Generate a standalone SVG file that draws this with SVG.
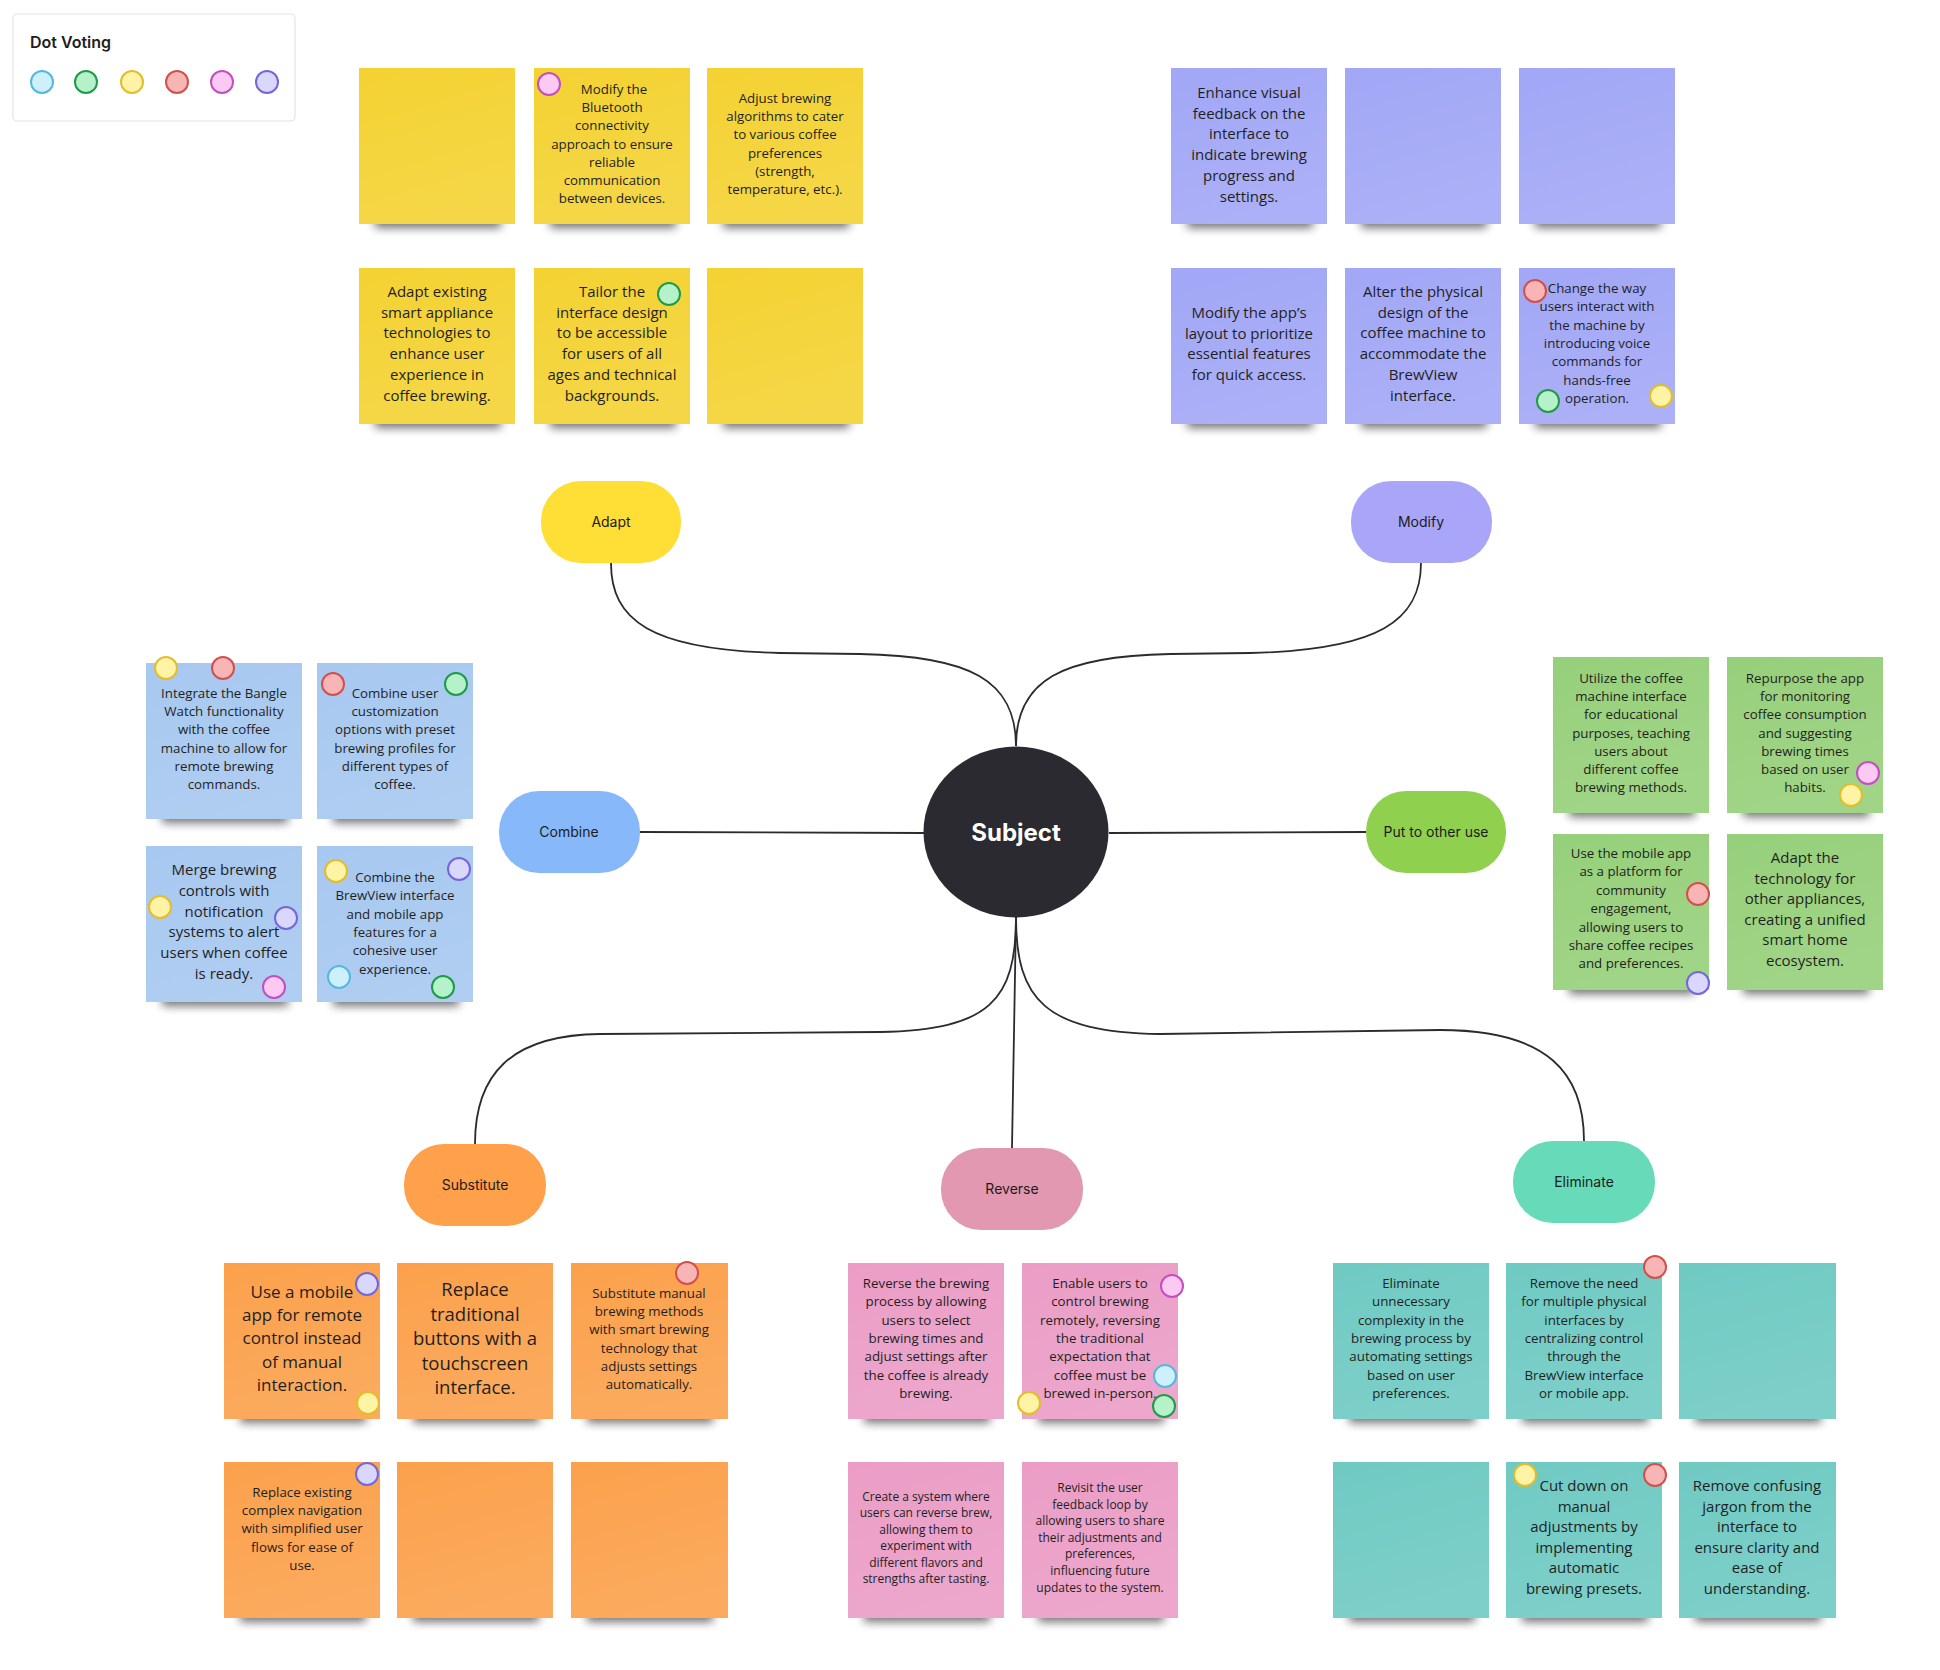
<svg xmlns="http://www.w3.org/2000/svg" width="1940" height="1670" viewBox="0 0 1940 1670">
<style>
.bg{fill:#ffffff}
.panel{fill:#ffffff;stroke:#e4e4e4;stroke-width:1.2}
.title{font-family:Inter,"Liberation Sans",sans-serif;font-size:16px;font-weight:600;fill:#1e1e1e}
.sh{fill:#000;opacity:.55;filter:url(#blur)}
.y{fill:#f4d232}.p{fill:#a2a7f6}.b{fill:#a7c8f0}.g{fill:#96d07a}.o{fill:#fba14c}.k{fill:#eb9dc6}.t{fill:#6fcac3}
.tx{font-family:"Open Sans","Liberation Sans",sans-serif;fill:#1f1f1f;text-anchor:middle}
.s12{font-size:12px}.s13{font-size:13.3px}.s15{font-size:15px}.s17{font-size:17px}.s18{font-size:18.5px}
.pill-t{font-family:Inter,"Liberation Sans",sans-serif;font-size:14px;fill:#1c1c1c;text-anchor:middle}
.conn{fill:none;stroke:#2b2b2e;stroke-width:1.8}
.dc{fill:#cdf0fb;stroke:#56b8de;stroke-width:2}
.dg{fill:#b6f2c9;stroke:#1f9a48;stroke-width:2}
.dy{fill:#fff3a6;stroke:#e2bd2c;stroke-width:2}
.dr{fill:#f8b5b5;stroke:#d2504c;stroke-width:2}
.dp{fill:#fbc9f1;stroke:#c24fbf;stroke-width:2}
.dv{fill:#d9d7fb;stroke:#7566dc;stroke-width:2}
</style>
<defs>
<filter id="blur" x="-20%" y="-150%" width="140%" height="400%"><feGaussianBlur stdDeviation="5"/></filter>
<linearGradient id="gloss" x1="0" y1="0" x2="0.3" y2="1"><stop offset="0" stop-color="#fff" stop-opacity="0"/><stop offset="1" stop-color="#fff" stop-opacity="0.1"/></linearGradient>
<g id="shadow"><rect class="sh" x="16" y="146" width="126" height="14"/></g>
</defs>
<rect class="bg" x="0" y="0" width="1940" height="1670"/>

<g id="dot-voting">
<rect class="panel" x="13" y="14" width="282" height="107" rx="4"/>
<text class="title" x="30" y="48">Dot Voting</text>
<circle class="dc" cx="42" cy="82" r="11"/>
<circle class="dg" cx="86" cy="82" r="11"/>
<circle class="dy" cx="132" cy="82" r="11"/>
<circle class="dr" cx="177" cy="82" r="11"/>
<circle class="dp" cx="222" cy="82" r="11"/>
<circle class="dv" cx="267" cy="82" r="11"/>
</g>

<g id="connectors">
<path class="conn" d="M1016,746 C1016,680 970,656 860,654 L780,653 C650,650 611,620 611,563"/>
<path class="conn" d="M1016,746 C1016,680 1062,656 1170,654 L1250,653 C1380,650 1421,620 1421,563"/>
<path class="conn" d="M640,832 L924,833"/>
<path class="conn" d="M1109,833 L1366,832"/>
<path class="conn" d="M1016,917 C1016,1000 990,1030 880,1032 L600,1034 C510,1035 475,1075 475,1144"/>
<path class="conn" d="M1016,917 L1012,1148"/>
<path class="conn" d="M1016,917 C1016,1000 1045,1032 1160,1034 L1440,1030 C1550,1030 1584,1075 1584,1141"/>
</g>

<g id="subject">
<ellipse cx="1016" cy="832" rx="92.5" ry="85.5" fill="#2b2a30"/>
<text x="1016" y="841" font-family="Inter,'Liberation Sans',sans-serif" font-size="24" font-weight="700" fill="#ffffff" text-anchor="middle">Subject</text>
</g>

<g id="pill-adapt"><rect x="541" y="481" width="140" height="82" rx="40" fill="#ffde36"/><text class="pill-t" x="611" y="527">Adapt</text></g>
<g id="pill-modify"><rect x="1351" y="481" width="141" height="82" rx="40" fill="#a9a5f8"/><text class="pill-t" x="1421" y="527">Modify</text></g>
<g id="pill-combine"><rect x="499" y="791" width="141" height="82" rx="40" fill="#87b9fa"/><text class="pill-t" x="569" y="837">Combine</text></g>
<g id="pill-put"><rect x="1366" y="791" width="140" height="82" rx="40" fill="#8fd14f"/><text class="pill-t" x="1436" y="837">Put to other use</text></g>
<g id="pill-substitute"><rect x="404" y="1144" width="142" height="82" rx="40" fill="#ffa04b"/><text class="pill-t" x="475" y="1190">Substitute</text></g>
<g id="pill-reverse"><rect x="941" y="1148" width="142" height="82" rx="40" fill="#e398b1"/><text class="pill-t" x="1012" y="1194">Reverse</text></g>
<g id="pill-eliminate"><rect x="1513" y="1141" width="142" height="82" rx="40" fill="#67dbb9"/><text class="pill-t" x="1584" y="1187">Eliminate</text></g>

<!-- Adapt stickies -->
<g id="a1" transform="translate(359,68)"><use href="#shadow"/><rect class="y" width="156" height="156"/><rect fill="url(#gloss)" width="156" height="156"/></g>
<g id="a2" transform="translate(534,68)"><use href="#shadow"/><rect class="y" width="156" height="156"/><rect fill="url(#gloss)" width="156" height="156"/>
<text class="tx s13" y="26"><tspan x="80">Modify the</tspan><tspan x="78" dy="18.2">Bluetooth</tspan><tspan x="78" dy="18.2">connectivity</tspan><tspan x="78" dy="18.2">approach to ensure</tspan><tspan x="78" dy="18.2">reliable</tspan><tspan x="78" dy="18.2">communication</tspan><tspan x="78" dy="18.2">between devices.</tspan></text>
<circle class="dp" cx="15" cy="16" r="11"/></g>
<g id="a3" transform="translate(707,68)"><use href="#shadow"/><rect class="y" width="156" height="156"/><rect fill="url(#gloss)" width="156" height="156"/>
<text class="tx s13" y="35"><tspan x="78">Adjust brewing</tspan><tspan x="78" dy="18.2">algorithms to cater</tspan><tspan x="78" dy="18.2">to various coffee</tspan><tspan x="78" dy="18.2">preferences</tspan><tspan x="78" dy="18.2">(strength,</tspan><tspan x="78" dy="18.2">temperature, etc.).</tspan></text></g>
<g id="a4" transform="translate(359,268)"><use href="#shadow"/><rect class="y" width="156" height="156"/><rect fill="url(#gloss)" width="156" height="156"/>
<text class="tx s15" y="29"><tspan x="78">Adapt existing</tspan><tspan x="78" dy="20.7">smart appliance</tspan><tspan x="78" dy="20.7">technologies to</tspan><tspan x="78" dy="20.7">enhance user</tspan><tspan x="78" dy="20.7">experience in</tspan><tspan x="78" dy="20.7">coffee brewing.</tspan></text></g>
<g id="a5" transform="translate(534,268)"><use href="#shadow"/><rect class="y" width="156" height="156"/><rect fill="url(#gloss)" width="156" height="156"/>
<text class="tx s15" y="29"><tspan x="78">Tailor the</tspan><tspan x="78" dy="20.7">interface design</tspan><tspan x="78" dy="20.7">to be accessible</tspan><tspan x="78" dy="20.7">for users of all</tspan><tspan x="78" dy="20.7">ages and technical</tspan><tspan x="78" dy="20.7">backgrounds.</tspan></text>
<circle class="dg" cx="135" cy="26" r="11"/></g>
<g id="a6" transform="translate(707,268)"><use href="#shadow"/><rect class="y" width="156" height="156"/><rect fill="url(#gloss)" width="156" height="156"/></g>

<!-- Modify stickies -->
<g id="m1" transform="translate(1171,68)"><use href="#shadow"/><rect class="p" width="156" height="156"/><rect fill="url(#gloss)" width="156" height="156"/>
<text class="tx s15" y="30"><tspan x="78">Enhance visual</tspan><tspan x="78" dy="20.7">feedback on the</tspan><tspan x="78" dy="20.7">interface to</tspan><tspan x="78" dy="20.7">indicate brewing</tspan><tspan x="78" dy="20.7">progress and</tspan><tspan x="78" dy="20.7">settings.</tspan></text></g>
<g id="m2" transform="translate(1345,68)"><use href="#shadow"/><rect class="p" width="156" height="156"/><rect fill="url(#gloss)" width="156" height="156"/></g>
<g id="m3" transform="translate(1519,68)"><use href="#shadow"/><rect class="p" width="156" height="156"/><rect fill="url(#gloss)" width="156" height="156"/></g>
<g id="m4" transform="translate(1171,268)"><use href="#shadow"/><rect class="p" width="156" height="156"/><rect fill="url(#gloss)" width="156" height="156"/>
<text class="tx s15" y="50"><tspan x="78">Modify the app’s</tspan><tspan x="78" dy="20.7">layout to prioritize</tspan><tspan x="78" dy="20.7">essential features</tspan><tspan x="78" dy="20.7">for quick access.</tspan></text></g>
<g id="m5" transform="translate(1345,268)"><use href="#shadow"/><rect class="p" width="156" height="156"/><rect fill="url(#gloss)" width="156" height="156"/>
<text class="tx s15" y="29"><tspan x="78">Alter the physical</tspan><tspan x="78" dy="20.7">design of the</tspan><tspan x="78" dy="20.7">coffee machine to</tspan><tspan x="78" dy="20.7">accommodate the</tspan><tspan x="78" dy="20.7">BrewView</tspan><tspan x="78" dy="20.7">interface.</tspan></text></g>
<g id="m6" transform="translate(1519,268)"><use href="#shadow"/><rect class="p" width="156" height="156"/><rect fill="url(#gloss)" width="156" height="156"/>
<text class="tx s13" y="25"><tspan x="78">Change the way</tspan><tspan x="78" dy="18.3">users interact with</tspan><tspan x="78" dy="18.3">the machine by</tspan><tspan x="78" dy="18.3">introducing voice</tspan><tspan x="78" dy="18.3">commands for</tspan><tspan x="78" dy="18.3">hands-free</tspan><tspan x="78" dy="18.3">operation.</tspan></text>
<circle class="dr" cx="16" cy="23" r="11"/><circle class="dg" cx="29" cy="133" r="11"/><circle class="dy" cx="142" cy="128" r="11"/></g>

<!-- Combine stickies -->
<g id="c1" transform="translate(146,663)"><use href="#shadow"/><rect class="b" width="156" height="156"/><rect fill="url(#gloss)" width="156" height="156"/>
<text class="tx s13" y="35"><tspan x="78">Integrate the Bangle</tspan><tspan x="78" dy="18.2">Watch functionality</tspan><tspan x="78" dy="18.2">with the coffee</tspan><tspan x="78" dy="18.2">machine to allow for</tspan><tspan x="78" dy="18.2">remote brewing</tspan><tspan x="78" dy="18.2">commands.</tspan></text>
<circle class="dy" cx="20" cy="5" r="11"/><circle class="dr" cx="77" cy="5" r="11"/></g>
<g id="c2" transform="translate(317,663)"><use href="#shadow"/><rect class="b" width="156" height="156"/><rect fill="url(#gloss)" width="156" height="156"/>
<text class="tx s13" y="35"><tspan x="78">Combine user</tspan><tspan x="78" dy="18.2">customization</tspan><tspan x="78" dy="18.2">options with preset</tspan><tspan x="78" dy="18.2">brewing profiles for</tspan><tspan x="78" dy="18.2">different types of</tspan><tspan x="78" dy="18.2">coffee.</tspan></text>
<circle class="dr" cx="16" cy="21" r="11"/><circle class="dg" cx="139" cy="21" r="11"/></g>
<g id="c3" transform="translate(146,846)"><use href="#shadow"/><rect class="b" width="156" height="156"/><rect fill="url(#gloss)" width="156" height="156"/>
<text class="tx s15" y="29"><tspan x="78">Merge brewing</tspan><tspan x="78" dy="20.8">controls with</tspan><tspan x="78" dy="20.8">notification</tspan><tspan x="78" dy="20.8">systems to alert</tspan><tspan x="78" dy="20.8">users when coffee</tspan><tspan x="78" dy="20.8">is ready.</tspan></text>
<circle class="dy" cx="14" cy="61" r="11"/><circle class="dv" cx="140" cy="72" r="11"/><circle class="dp" cx="128" cy="141" r="11"/></g>
<g id="c4" transform="translate(317,846)"><use href="#shadow"/><rect class="b" width="156" height="156"/><rect fill="url(#gloss)" width="156" height="156"/>
<text class="tx s13" y="36"><tspan x="78">Combine the</tspan><tspan x="78" dy="18.3">BrewView interface</tspan><tspan x="78" dy="18.3">and mobile app</tspan><tspan x="78" dy="18.3">features for a</tspan><tspan x="78" dy="18.3">cohesive user</tspan><tspan x="78" dy="18.3">experience.</tspan></text>
<circle class="dy" cx="19" cy="25" r="11"/><circle class="dv" cx="142" cy="23" r="11"/><circle class="dc" cx="22" cy="131" r="11"/><circle class="dg" cx="126" cy="141" r="11"/></g>

<!-- Put to other use stickies -->
<g id="g1" transform="translate(1553,657)"><use href="#shadow"/><rect class="g" width="156" height="156"/><rect fill="url(#gloss)" width="156" height="156"/>
<text class="tx s13" y="26"><tspan x="78">Utilize the coffee</tspan><tspan x="78" dy="18.2">machine interface</tspan><tspan x="78" dy="18.2">for educational</tspan><tspan x="78" dy="18.2">purposes, teaching</tspan><tspan x="78" dy="18.2">users about</tspan><tspan x="78" dy="18.2">different coffee</tspan><tspan x="78" dy="18.2">brewing methods.</tspan></text></g>
<g id="g2" transform="translate(1727,657)"><use href="#shadow"/><rect class="g" width="156" height="156"/><rect fill="url(#gloss)" width="156" height="156"/>
<text class="tx s13" y="26"><tspan x="78">Repurpose the app</tspan><tspan x="78" dy="18.2">for monitoring</tspan><tspan x="78" dy="18.2">coffee consumption</tspan><tspan x="78" dy="18.2">and suggesting</tspan><tspan x="78" dy="18.2">brewing times</tspan><tspan x="78" dy="18.2">based on user</tspan><tspan x="78" dy="18.2">habits.</tspan></text>
<circle class="dp" cx="141" cy="116" r="11"/><circle class="dy" cx="124" cy="138" r="11"/></g>
<g id="g3" transform="translate(1553,834)"><use href="#shadow"/><rect class="g" width="156" height="156"/><rect fill="url(#gloss)" width="156" height="156"/>
<text class="tx s13" y="24"><tspan x="78">Use the mobile app</tspan><tspan x="78" dy="18.4">as a platform for</tspan><tspan x="78" dy="18.4">community</tspan><tspan x="78" dy="18.4">engagement,</tspan><tspan x="78" dy="18.4">allowing users to</tspan><tspan x="78" dy="18.4">share coffee recipes</tspan><tspan x="78" dy="18.4">and preferences.</tspan></text>
<circle class="dr" cx="145" cy="60" r="11"/><circle class="dv" cx="145" cy="149" r="11"/></g>
<g id="g4" transform="translate(1727,834)"><use href="#shadow"/><rect class="g" width="156" height="156"/><rect fill="url(#gloss)" width="156" height="156"/>
<text class="tx s15" y="29"><tspan x="78">Adapt the</tspan><tspan x="78" dy="20.6">technology for</tspan><tspan x="78" dy="20.6">other appliances,</tspan><tspan x="78" dy="20.6">creating a unified</tspan><tspan x="78" dy="20.6">smart home</tspan><tspan x="78" dy="20.6">ecosystem.</tspan></text></g>

<!-- Substitute stickies -->
<g id="o1" transform="translate(224,1263)"><use href="#shadow"/><rect class="o" width="156" height="156"/><rect fill="url(#gloss)" width="156" height="156"/>
<text class="tx s17" y="35"><tspan x="78">Use a mobile</tspan><tspan x="78" dy="23.2">app for remote</tspan><tspan x="78" dy="23.2">control instead</tspan><tspan x="78" dy="23.2">of manual</tspan><tspan x="78" dy="23.2">interaction.</tspan></text>
<circle class="dv" cx="143" cy="21" r="11"/><circle class="dy" cx="144" cy="140" r="11"/></g>
<g id="o2" transform="translate(397,1263)"><use href="#shadow"/><rect class="o" width="156" height="156"/><rect fill="url(#gloss)" width="156" height="156"/>
<text class="tx s18" y="33"><tspan x="78">Replace</tspan><tspan x="78" dy="24.5">traditional</tspan><tspan x="78" dy="24.5">buttons with a</tspan><tspan x="78" dy="24.5">touchscreen</tspan><tspan x="78" dy="24.5">interface.</tspan></text></g>
<g id="o3" transform="translate(571,1263)"><use href="#shadow"/><rect class="o" width="157" height="156"/><rect fill="url(#gloss)" width="157" height="156"/>
<text class="tx s13" y="35"><tspan x="78">Substitute manual</tspan><tspan x="78" dy="18.2">brewing methods</tspan><tspan x="78" dy="18.2">with smart brewing</tspan><tspan x="78" dy="18.2">technology that</tspan><tspan x="78" dy="18.2">adjusts settings</tspan><tspan x="78" dy="18.2">automatically.</tspan></text>
<circle class="dr" cx="116" cy="10" r="11"/></g>
<g id="o4" transform="translate(224,1462)"><use href="#shadow"/><rect class="o" width="156" height="156"/><rect fill="url(#gloss)" width="156" height="156"/>
<text class="tx s13" y="35"><tspan x="78">Replace existing</tspan><tspan x="78" dy="18.2">complex navigation</tspan><tspan x="78" dy="18.2">with simplified user</tspan><tspan x="78" dy="18.2">flows for ease of</tspan><tspan x="78" dy="18.2">use.</tspan></text>
<circle class="dv" cx="143" cy="12" r="11"/></g>
<g id="o5" transform="translate(397,1462)"><use href="#shadow"/><rect class="o" width="156" height="156"/><rect fill="url(#gloss)" width="156" height="156"/></g>
<g id="o6" transform="translate(571,1462)"><use href="#shadow"/><rect class="o" width="157" height="156"/><rect fill="url(#gloss)" width="157" height="156"/></g>

<!-- Reverse stickies -->
<g id="r1" transform="translate(848,1263)"><use href="#shadow"/><rect class="k" width="156" height="156"/><rect fill="url(#gloss)" width="156" height="156"/>
<text class="tx s13" y="25"><tspan x="78">Reverse the brewing</tspan><tspan x="78" dy="18.3">process by allowing</tspan><tspan x="78" dy="18.3">users to select</tspan><tspan x="78" dy="18.3">brewing times and</tspan><tspan x="78" dy="18.3">adjust settings after</tspan><tspan x="78" dy="18.3">the coffee is already</tspan><tspan x="78" dy="18.3">brewing.</tspan></text></g>
<g id="r2" transform="translate(1022,1263)"><use href="#shadow"/><rect class="k" width="156" height="156"/><rect fill="url(#gloss)" width="156" height="156"/>
<text class="tx s13" y="25"><tspan x="78">Enable users to</tspan><tspan x="78" dy="18.3">control brewing</tspan><tspan x="78" dy="18.3">remotely, reversing</tspan><tspan x="78" dy="18.3">the traditional</tspan><tspan x="78" dy="18.3">expectation that</tspan><tspan x="78" dy="18.3">coffee must be</tspan><tspan x="78" dy="18.3">brewed in-person.</tspan></text>
<circle class="dp" cx="150" cy="23" r="11"/><circle class="dc" cx="143" cy="113" r="11"/><circle class="dg" cx="142" cy="143" r="11"/><circle class="dy" cx="7" cy="140" r="11"/></g>
<g id="r3" transform="translate(848,1462)"><use href="#shadow"/><rect class="k" width="156" height="156"/><rect fill="url(#gloss)" width="156" height="156"/>
<text class="tx s12" y="39"><tspan x="78">Create a system where</tspan><tspan x="78" dy="16.4">users can reverse brew,</tspan><tspan x="78" dy="16.4">allowing them to</tspan><tspan x="78" dy="16.4">experiment with</tspan><tspan x="78" dy="16.4">different flavors and</tspan><tspan x="78" dy="16.4">strengths after tasting.</tspan></text></g>
<g id="r4" transform="translate(1022,1462)"><use href="#shadow"/><rect class="k" width="156" height="156"/><rect fill="url(#gloss)" width="156" height="156"/>
<text class="tx s12" y="30"><tspan x="78">Revisit the user</tspan><tspan x="78" dy="16.6">feedback loop by</tspan><tspan x="78" dy="16.6">allowing users to share</tspan><tspan x="78" dy="16.6">their adjustments and</tspan><tspan x="78" dy="16.6">preferences,</tspan><tspan x="78" dy="16.6">influencing future</tspan><tspan x="78" dy="16.6">updates to the system.</tspan></text></g>

<!-- Eliminate stickies -->
<g id="t1" transform="translate(1333,1263)"><use href="#shadow"/><rect class="t" width="156" height="156"/><rect fill="url(#gloss)" width="156" height="156"/>
<text class="tx s13" y="25"><tspan x="78">Eliminate</tspan><tspan x="78" dy="18.3">unnecessary</tspan><tspan x="78" dy="18.3">complexity in the</tspan><tspan x="78" dy="18.3">brewing process by</tspan><tspan x="78" dy="18.3">automating settings</tspan><tspan x="78" dy="18.3">based on user</tspan><tspan x="78" dy="18.3">preferences.</tspan></text></g>
<g id="t2" transform="translate(1506,1263)"><use href="#shadow"/><rect class="t" width="156" height="156"/><rect fill="url(#gloss)" width="156" height="156"/>
<text class="tx s13" y="25"><tspan x="78">Remove the need</tspan><tspan x="78" dy="18.3">for multiple physical</tspan><tspan x="78" dy="18.3">interfaces by</tspan><tspan x="78" dy="18.3">centralizing control</tspan><tspan x="78" dy="18.3">through the</tspan><tspan x="78" dy="18.3">BrewView interface</tspan><tspan x="78" dy="18.3">or mobile app.</tspan></text>
<circle class="dr" cx="149" cy="4" r="11"/></g>
<g id="t3" transform="translate(1679,1263)"><use href="#shadow"/><rect class="t" width="157" height="156"/><rect fill="url(#gloss)" width="157" height="156"/></g>
<g id="t4" transform="translate(1333,1462)"><use href="#shadow"/><rect class="t" width="156" height="156"/><rect fill="url(#gloss)" width="156" height="156"/></g>
<g id="t5" transform="translate(1506,1462)"><use href="#shadow"/><rect class="t" width="156" height="156"/><rect fill="url(#gloss)" width="156" height="156"/>
<text class="tx s15" y="29"><tspan x="78">Cut down on</tspan><tspan x="78" dy="20.6">manual</tspan><tspan x="78" dy="20.6">adjustments by</tspan><tspan x="78" dy="20.6">implementing</tspan><tspan x="78" dy="20.6">automatic</tspan><tspan x="78" dy="20.6">brewing presets.</tspan></text>
<circle class="dy" cx="19" cy="13" r="11"/><circle class="dr" cx="149" cy="13" r="11"/></g>
<g id="t6" transform="translate(1679,1462)"><use href="#shadow"/><rect class="t" width="157" height="156"/><rect fill="url(#gloss)" width="157" height="156"/>
<text class="tx s15" y="29"><tspan x="78">Remove confusing</tspan><tspan x="78" dy="20.6">jargon from the</tspan><tspan x="78" dy="20.6">interface to</tspan><tspan x="78" dy="20.6">ensure clarity and</tspan><tspan x="78" dy="20.6">ease of</tspan><tspan x="78" dy="20.6">understanding.</tspan></text></g>
</svg>
